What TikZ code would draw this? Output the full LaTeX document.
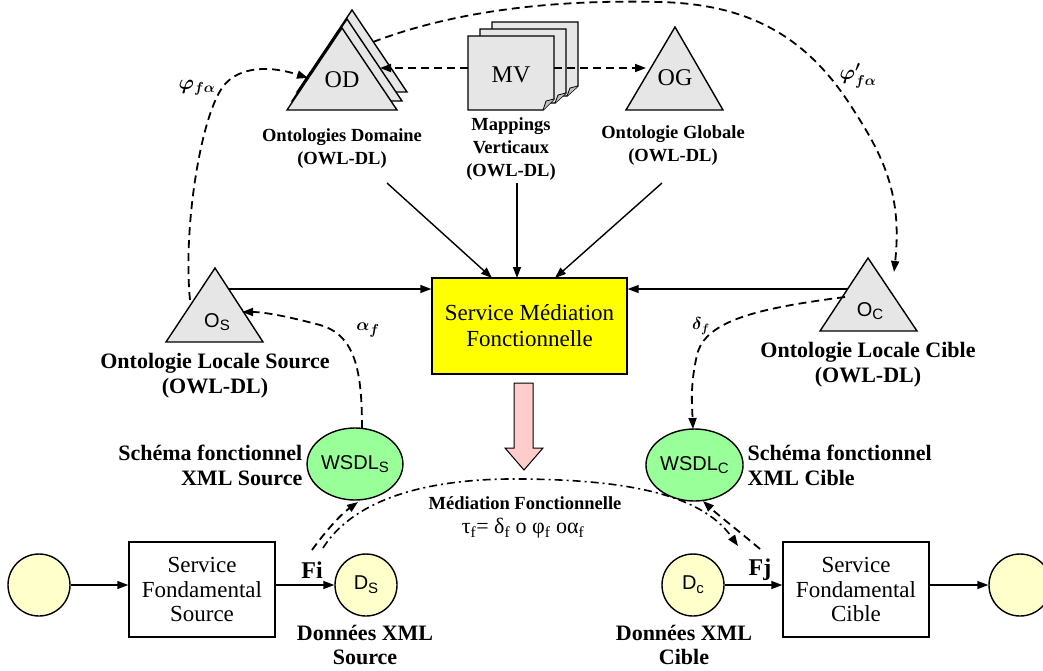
\documentclass[tikz,border=0pt]{standalone}
\usepackage{fontspec}
\setmainfont{Liberation Serif}
\newfontfamily\arial{Liberation Sans}
\usetikzlibrary{arrows.meta,shapes.geometric}
\definecolor{tgray}{RGB}{230,230,230}
\definecolor{fgray}{RGB}{190,190,190}
\definecolor{myyellow}{RGB}{255,255,0}
\definecolor{mygreen}{RGB}{153,255,153}
\definecolor{lyellow}{RGB}{255,255,204}
\definecolor{mypink}{RGB}{255,204,204}
\newcommand{\sub}[1]{\raisebox{-0.35ex}{\fontsize{15}{15}\selectfont #1}}
\begin{document}
\begin{tikzpicture}[x=1pt,y=-1pt,line width=1.4pt,line join=miter,
  tip/.style={-{Triangle[length=11pt,width=8pt]}},
  dsh/.style={line width=1.8pt,dash pattern=on 8pt off 5pt},
  dd/.style={line width=1.6pt,dash pattern=on 8pt off 4pt on 2pt off 4pt},
  tri/.style={draw,fill=tgray},
  sheet/.style={draw,fill=tgray},
  fold/.style={draw,fill=fgray,line width=0.8pt},
  tlab/.style={font=\fontsize{24}{26}\selectfont,inner sep=0pt},
  olab/.style={font=\arial\fontsize{20}{22}\selectfont,inner sep=0pt},
  sm/.style={font=\bfseries\fontsize{18.5}{23}\selectfont,align=center,inner sep=0pt},
  md/.style={font=\bfseries\fontsize{22}{25}\selectfont,align=center,inner sep=0pt},
  mth/.style={font=\fontsize{22}{24}\selectfont\boldmath,inner sep=0pt},
  ybox/.style={draw,fill=myyellow,minimum width=195pt,minimum height=96pt,inner sep=0pt,align=center,font=\fontsize{23}{26}\selectfont},
  fbox/.style={draw,fill=white,minimum width=146pt,minimum height=95pt,inner sep=0pt,align=center,font=\fontsize{23}{24.5}\selectfont},
  circ/.style={draw,circle,fill=lyellow,minimum size=62pt,inner sep=0pt,font=\arial\fontsize{20}{22}\selectfont},
  ell/.style={draw,ellipse,fill=mygreen,minimum width=86pt,minimum height=72pt,inner sep=0pt,font=\arial\fontsize{20}{22}\selectfont}
]
\useasboundingbox (0,0) rectangle (1043,670);

% ---------- OD stack ----------
\draw[tri] (297,92) -- (352,10) -- (407,92) -- cycle;
\draw[tri] (292,101) -- (347,19) -- (402,101) -- cycle;
\draw[tri] (287,110) -- (342,28) -- (397,110) -- cycle;
\node[tlab] (od) at (342,80) {OD};

% ---------- MV stack ----------
\draw[sheet] (492,22) -- (578,22) -- (578,86) -- (567,96) -- (492,96) -- cycle;
\draw[fold] (567,96) -- (570,88) -- (578,86);
\draw[sheet] (480,29) -- (566,29) -- (566,93) -- (555,103) -- (480,103) -- cycle;
\draw[fold] (555,103) -- (558,95) -- (566,93);
\draw[sheet] (468,36) -- (554,36) -- (554,99) -- (543,110) -- (468,110) -- cycle;
\draw[fold] (543,110) -- (546,101) -- (554,99);
\node[tlab] (mv) at (511,75) {MV};

% ---------- OG ----------
\draw[tri] (626,110) -- (675,27) -- (723,110) -- cycle;
\node[tlab] (og) at (675,78) {OG};

% top labels
\node[sm] (odlab) at (342,149) {Ontologies Domaine\\(OWL-DL)};
\node[sm] (mvlab) at (511,149) {Mappings\\Verticaux\\(OWL-DL)};
\node[sm] (oglab) at (673,146) {Ontologie Globale\\(OWL-DL)};

% MV dashed links
\coordinate (mvl) at (468,68);
\coordinate (mvr) at (554,68);
\coordinate (odr) at (380,68);
\coordinate (ogl) at (646,68);
\draw[dsh,tip] (mvl) -- (odr);
\draw[dsh,tip] (mvr) -- (ogl);

% ---------- central box ----------
\node[ybox] (smf) at (529.5,326) {Service Médiation\\Fonctionnelle};
\coordinate (s1) at (387,183);
\coordinate (e1) at (492,278);
\coordinate (s2) at (517,183);
\coordinate (e2) at (517,278);
\coordinate (s3) at (662,183);
\coordinate (e3) at (555,278);
\draw[tip] (s1) -- (e1);
\draw[tip] (s2) -- (e2);
\draw[tip] (s3) -- (e3);

% ---------- local ontologies ----------
\draw[tri] (166,342) -- (215,268) -- (263,342) -- cycle;
\node[olab] (os) at (217,322) {O\sub{S}};
\draw[tri] (820,331) -- (868,258) -- (917,331) -- cycle;
\node[olab] (oc) at (870,311) {O\sub{C}};
\node[md] (oslab) at (215,376) {Ontologie Locale Source\\(OWL-DL)};
\node[md] (oclab) at (868,365) {Ontologie Locale Cible\\(OWL-DL)};
\coordinate (osr) at (229,289);
\coordinate (ocl) at (848,289);
\draw[tip] (osr) -- (smf.west |- osr);
\draw[tip] (ocl) -- (smf.east |- ocl);

% pink arrow
\draw[fill=mypink,line width=1pt] (514,383) -- (533,383) -- (533,448) -- (543,448) -- (524,470) -- (505,448) -- (514,448) -- cycle;

% ---------- WSDL ----------
\node[ell] (ws) at (355,464) {WSDL\sub{S}};
\node[ell] (wc) at (694.5,465) {WSDL\sub{C}};
\node[md,anchor=east,align=right] (wslab) at (303,465) {Schéma fonctionnel\\XML Source};
\node[md,anchor=west,align=left] (wclab) at (747,465) {Schéma fonctionnel\\XML Cible};

% ---------- bottom row ----------
\node[circ] (c1) at (39,585) {};
\node[fbox] (sfs) at (202,589.5) {Service\\Fondamental\\Source};
\node[circ] (ds) at (366,585) {D\sub{S}};
\node[circ] (dc) at (693,585) {D\sub{c}};
\node[fbox] (sfc) at (856,589.5) {Service\\Fondamental\\Cible};
\node[circ] (c2) at (1020,585) {};
\draw[tip] (c1) -- (sfs.west |- c1);
\draw[tip] (sfs.east |- ds) -- (ds);
\draw[tip] (dc) -- (sfc.west |- dc);
\draw[tip] (sfc.east |- c2) -- (c2);
\node[font=\bfseries\fontsize{24}{26}\selectfont,inner sep=0pt] (fi) at (312,570) {Fi};
\node[font=\bfseries\fontsize{24}{26}\selectfont,inner sep=0pt] (fj) at (760,570) {Fj};
\node[font=\bfseries\fontsize{22}{24}\selectfont,align=center,inner sep=0pt] (dslab) at (365,645) {Données XML\\Source};
\node[font=\bfseries\fontsize{22}{24}\selectfont,align=center,inner sep=0pt] (dclab) at (684,645) {Données XML\\Cible};

% ---------- dashed mappings ----------
\coordinate (osl) at (190,300);
\coordinate (odl) at (308,78);
\draw[dsh,tip] (osl) .. controls (183,230) and (200,120) .. (222,88)
   .. controls (234,70) and (262,63) .. (odl);
\node[mth] (phi) at (197,88) {$\varphi_{f\alpha}$};

\coordinate (odb) at (373,42);
\coordinate (oct) at (894,272);
\draw[dsh,tip] (odb) .. controls (470,5) and (580,0) .. (660,2)
   .. controls (740,4) and (800,30) .. (847,100)
   .. controls (880,150) and (903,190) .. (oct);
\node[mth] (phip) at (858,76) {$\varphi'_{f\alpha}$};

\coordinate (wst) at (362,428);
\coordinate (osa) at (242,312);
\draw[dsh,tip] (wst) .. controls (362,370) and (355,335) .. (320,325)
   .. controls (290,317) and (265,312) .. (osa);
\node[font=\fontsize{19}{20}\selectfont\boldmath,inner sep=0pt] (alf) at (368,330) {$\alpha_f$};

\coordinate (ocd) at (845,297);
\coordinate (wct) at (693,429);
\draw[dsh,tip] (ocd) .. controls (760,308) and (705,320) .. (697,355)
   .. controls (690,385) and (692,405) .. (wct);
\node[font=\fontsize{18}{19}\selectfont\boldmath,inner sep=0pt] (dlf) at (701,326) {$\delta_f$};

% Fi / Fj to WSDL
\coordinate (fis) at (312,550);
\coordinate (wsb) at (358,502);
\draw[dsh,tip] (fis) .. controls (325,532) and (340,515) .. (wsb);
\coordinate (fjs) at (760,549);
\coordinate (wcb) at (703,501);
\draw[dsh,tip] (fjs) .. controls (740,532) and (718,515) .. (wcb);

% mediation arc
\coordinate (ms) at (323,548);
\coordinate (me) at (738,546);
\draw[dd,tip] (ms) .. controls (360,490) and (450,478) .. (523,479)
   .. controls (620,480) and (700,492) .. (me);
\node[font=\bfseries\fontsize{18.5}{21}\selectfont,inner sep=0pt] (mlab) at (525,503) {Médiation Fonctionnelle};
\node[font=\fontsize{22}{24}\selectfont,inner sep=0pt] (form) at (523,528) {τ\textsubscript{f}= δ\textsubscript{f} o φ\textsubscript{f} oα\textsubscript{f}};
\end{tikzpicture}
\end{document}
